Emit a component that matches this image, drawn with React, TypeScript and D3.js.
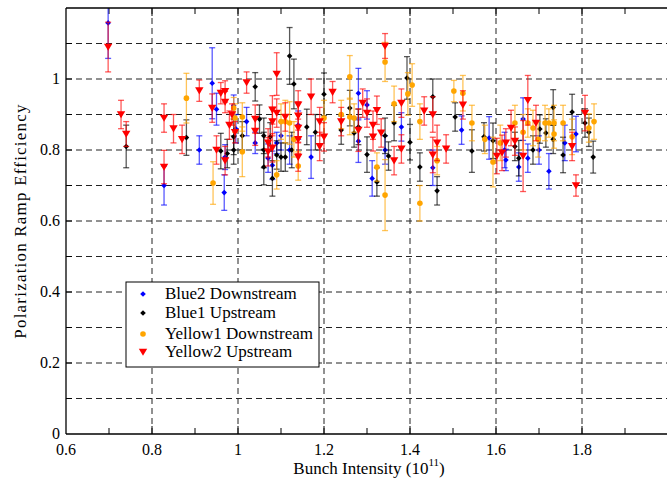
import React from "react";
import * as d3 from "d3";

// [x, y, err]
const blue2Down: number[][] = [
  [0.698,1.158,0.10],[0.828,0.700,0.055],[0.91,0.80,0.04],[0.94,0.988,0.10],[0.95,0.915,0.045],
  [0.968,0.68,0.05],[0.97,0.78,0.035],[0.99,0.925,0.03],[0.995,0.86,0.04],[1.02,0.88,0.04],
  [1.04,0.82,0.03],[1.07,0.777,0.04],[1.08,0.757,0.04],[1.09,0.82,0.03],[1.10,0.84,0.04],
  [1.12,0.80,0.04],[1.14,0.87,0.04],[1.17,0.78,0.06],[1.28,0.96,0.07],[1.28,0.825,0.06],
  [1.30,0.927,0.04],[1.312,0.72,0.05],[1.342,0.80,0.04],[1.38,0.865,0.04],[1.453,0.75,0.05],
  [1.52,0.856,0.04],[1.584,0.834,0.06],[1.62,0.80,0.05],[1.623,0.772,0.03],[1.653,0.752,0.04],
  [1.663,0.887,0.06],[1.674,0.777,0.04],[1.70,0.80,0.04],[1.723,0.74,0.05],[1.76,0.82,0.05],
  [1.786,0.845,0.05],
];
const blue1Up: number[][] = [
  [0.74,0.81,0.06],[0.88,0.835,0.05],[0.96,0.797,0.05],[0.975,0.79,0.04],[0.99,0.80,0.04],
  [0.99,0.837,0.05],[1.01,0.84,0.04],[1.04,0.978,0.04],[1.05,0.887,0.04],[1.06,0.84,0.05],
  [1.06,0.80,0.05],[1.06,0.752,0.05],[1.075,0.837,0.04],[1.08,0.72,0.05],[1.09,0.786,0.04],
  [1.10,0.78,0.04],[1.11,0.78,0.04],[1.12,1.065,0.08],[1.13,0.986,0.07],[1.125,0.80,0.05],
  [1.16,0.865,0.05],[1.18,0.85,0.05],[1.20,0.957,0.06],[1.24,0.856,0.04],[1.26,0.918,0.05],
  [1.27,0.848,0.04],[1.28,0.865,0.05],[1.30,0.787,0.05],[1.323,0.71,0.04],[1.342,0.84,0.05],
  [1.35,0.783,0.04],[1.363,0.876,0.05],[1.393,1.003,0.06],[1.40,0.822,0.05],[1.423,0.752,0.04],
  [1.453,0.95,0.05],[1.463,0.685,0.04],[1.505,0.893,0.04],[1.544,0.797,0.06],[1.572,0.837,0.04],
  [1.593,0.826,0.05],[1.644,0.81,0.04],[1.653,0.777,0.05],[1.686,0.80,0.04],[1.702,0.859,0.04],
  [1.716,0.848,0.04],[1.733,0.92,0.05],[1.733,0.83,0.04],[1.756,0.786,0.05],[1.777,0.907,0.05],
  [1.807,0.876,0.04],[1.816,0.85,0.04],[1.826,0.78,0.045],
];
const yellow1Down: number[][] = [
  [0.88,0.946,0.07],[0.942,0.707,0.06],[0.99,0.918,0.03],[0.993,0.89,0.04],[1.01,0.893,0.04],
  [1.01,0.795,0.07],[1.09,0.73,0.04],[1.10,0.88,0.05],[1.11,0.88,0.06],[1.12,0.876,0.06],
  [1.13,0.83,0.05],[1.14,0.755,0.04],[1.20,0.89,0.05],[1.24,0.90,0.04],[1.26,1.006,0.06],
  [1.26,0.893,0.05],[1.27,0.89,0.04],[1.323,0.752,0.04],[1.342,1.048,0.055],[1.342,0.673,0.10],
  [1.363,0.93,0.05],[1.395,0.958,0.06],[1.405,0.983,0.06],[1.423,0.88,0.05],[1.423,0.65,0.05],
  [1.463,0.77,0.04],[1.502,0.966,0.03],[1.523,0.96,0.05],[1.544,0.876,0.05],[1.574,0.83,0.04],
  [1.593,0.766,0.07],[1.61,0.82,0.05],[1.644,0.876,0.05],[1.663,0.85,0.05],[1.674,0.876,0.04],
  [1.686,0.862,0.05],[1.698,0.83,0.05],[1.714,0.876,0.05],[1.723,0.876,0.04],[1.735,0.876,0.05],
  [1.735,0.845,0.04],[1.756,0.876,0.05],[1.777,0.837,0.05],[1.816,0.862,0.04],[1.828,0.88,0.05],
];
const yellow2Up: number[][] = [
  [0.698,1.09,0.07],[0.728,0.90,0.04],[0.74,0.845,0.035],[0.828,0.89,0.04],[0.828,0.752,0.047],
  [0.85,0.86,0.04],[0.87,0.83,0.04],[0.91,0.967,0.03],[0.94,0.918,0.04],[0.95,0.80,0.04],
  [0.96,0.96,0.03],[0.97,0.965,0.03],[0.97,0.935,0.03],[0.97,0.77,0.04],[0.98,0.87,0.04],
  [0.986,0.90,0.03],[0.993,0.85,0.03],[1.02,0.99,0.03],[1.04,0.887,0.04],[1.04,0.853,0.04],
  [1.07,0.82,0.04],[1.07,0.795,0.04],[1.08,0.913,0.04],[1.08,0.88,0.04],[1.08,0.806,0.04],
  [1.09,1.014,0.06],[1.09,0.904,0.04],[1.11,0.893,0.04],[1.14,0.927,0.04],[1.14,0.896,0.04],
  [1.14,0.862,0.04],[1.14,0.83,0.04],[1.14,0.78,0.04],[1.17,0.95,0.05],[1.19,0.88,0.04],
  [1.19,0.81,0.04],[1.20,0.837,0.04],[1.22,0.963,0.03],[1.24,0.88,0.04],[1.28,0.856,0.06],
  [1.29,0.932,0.04],[1.30,0.904,0.04],[1.314,0.837,0.04],[1.314,0.87,0.04],[1.323,0.912,0.04],
  [1.333,0.848,0.04],[1.342,1.093,0.035],[1.363,0.77,0.04],[1.38,0.932,0.04],[1.38,0.803,0.04],
  [1.433,0.91,0.04],[1.453,0.90,0.05],[1.453,0.786,0.05],[1.463,0.82,0.05],[1.484,0.803,0.04],
  [1.523,0.927,0.04],[1.602,0.783,0.05],[1.614,0.792,0.05],[1.623,0.82,0.04],[1.635,0.862,0.05],
  [1.644,0.825,0.04],[1.663,0.783,0.10],[1.674,0.94,0.07],[1.693,0.876,0.05],[1.777,0.81,0.04],
  [1.786,0.70,0.03],[1.807,0.904,0.05],
];

const seriesNames = ["Blue2 Downstream", "Blue1 Upstream", "Yellow1 Downstream", "Yellow2 Upstream"];
const seriesColors = ["#0000ff", "#000000", "#ffa500", "#ff0000"];
const seriesShapes = ["diamond", "diamond", "circle", "triangle"];
const seriesData = [blue2Down, blue1Up, yellow1Down, yellow2Up];

const xTicks = [0.6, 0.8, 1, 1.2, 1.4, 1.6, 1.8];
const yTicks = [0, 0.2, 0.4, 0.6, 0.8, 1];

const W = 667, H = 482;
const FONT = "'Liberation Serif', 'DejaVu Serif', serif";

function Marker({ shape, x, y, color }: { shape: string; x: number; y: number; color: string }) {
  if (shape === "triangle") {
    const s = 4.2;
    return <path d={`M${x - s},${y - s * 0.8}L${x + s},${y - s * 0.8}L${x},${y + s * 0.9}Z`} fill={color} />;
  }
  if (shape === "circle") {
    return <circle cx={x} cy={y} r={2.8} fill={color} />;
  }
  const s = 2.8;
  return <path d={`M${x},${y - s}L${x + s},${y}L${x},${y + s}L${x - s},${y}Z`} fill={color} />;
}

export default function App() {
  const x = d3.scaleLinear().domain([0.6, 2.0]).range([66, 668]);
  const y = d3.scaleLinear().domain([0, 1.2]).range([434, 8]);
  const left = x(0.6), top = y(1.2), bottom = y(0);
  const gridY = d3.range(1, 12).map((i) => i / 10);
  const gridX = [0.8, 1.0, 1.2, 1.4, 1.6, 1.8];
  const minorX = d3.range(7, 20).map((i) => i / 10);
  const legendRows = [294, 313, 334, 352];

  return (
    <svg width={W} height={H} style={{ position: "absolute", left: 0, top: 0, background: "#fff" }} fontFamily={FONT}>
      <defs>
        <clipPath id="plotClip">
          <rect x={left} y={top} width={W - left} height={bottom - top} />
        </clipPath>
      </defs>
      <rect width={W} height={H} fill="#fff" />
      {/* grid */}
      {gridY.map((v) => (
        <line key={"gy" + v} x1={left} x2={W} y1={y(v)} y2={y(v)} stroke="#222" strokeWidth={1} strokeDasharray="6,4" />
      ))}
      {gridX.map((v) => (
        <line key={"gx" + v} x1={x(v)} x2={x(v)} y1={top} y2={bottom} stroke="#222" strokeWidth={1} strokeDasharray="6,4" />
      ))}
      {/* ticks */}
      {minorX.map((v) => {
        const major = Math.round(v * 10) % 2 === 0;
        const len = major ? 8 : 6;
        return (
          <g key={"t" + v}>
            <line x1={x(v)} x2={x(v)} y1={bottom} y2={bottom - len} stroke="#000" strokeWidth={1} />
            <line x1={x(v)} x2={x(v)} y1={top} y2={top + len} stroke="#000" strokeWidth={1} />
          </g>
        );
      })}
      {gridY.map((v) => (
        <line key={"yt" + v} x1={left} x2={left + 6} y1={y(v)} y2={y(v)} stroke="#000" strokeWidth={1} />
      ))}
      {/* data */}
      <g clipPath="url(#plotClip)">
        {seriesData.map((data, si) => (
          <g key={"s" + si}>
            {data.map((d, i) => {
              const cx = x(d[0]);
              const y1 = y(d[1] - d[2]);
              const y2 = y(d[1] + d[2]);
              return (
                <g key={i} stroke={seriesColors[si]} strokeOpacity={0.65} strokeWidth={1.3}>
                  <line x1={cx} x2={cx} y1={y1} y2={y2} />
                  <line x1={cx - 3} x2={cx + 3} y1={y1} y2={y1} />
                  <line x1={cx - 3} x2={cx + 3} y1={y2} y2={y2} />
                </g>
              );
            })}
            {data.map((d, i) => (
              <Marker key={"m" + i} shape={seriesShapes[si]} x={x(d[0])} y={y(d[1])} color={seriesColors[si]} />
            ))}
          </g>
        ))}
      </g>
      {/* axes */}
      <line x1={left} x2={W} y1={top} y2={top} stroke="#000" strokeWidth={1.3} />
      <line x1={left} x2={W} y1={bottom} y2={bottom} stroke="#000" strokeWidth={1.3} />
      <line x1={left} x2={left} y1={top} y2={bottom} stroke="#000" strokeWidth={1.3} />
      {/* tick labels */}
      {yTicks.map((v) => (
        <text key={"yl" + v} x={60} y={y(v) + 5} textAnchor="end" fontSize={16} fill="#000">
          {d3.format("~g")(v)}
        </text>
      ))}
      {xTicks.map((v) => (
        <text key={"xl" + v} x={x(v)} y={455} textAnchor="middle" fontSize={16} fill="#000">
          {d3.format("~g")(v)}
        </text>
      ))}
      {/* axis titles */}
      <text x={369} y={474} textAnchor="middle" fontSize={17} fill="#000">
        Bunch Intensity (10<tspan dy={-8} fontSize={11}>11</tspan><tspan dy={8}>)</tspan>
      </text>
      <text transform={`translate(26,${221}) rotate(-90)`} textAnchor="middle" fontSize={17} letterSpacing={1.2} fill="#000">
        Polarization Ramp Efficiency
      </text>
      {/* legend */}
      <rect x={126} y={282} width={193} height={85} fill="#fff" stroke="#000" strokeWidth={1} />
      {seriesNames.map((n, i) => (
        <g key={"lg" + i}>
          <Marker shape={seriesShapes[i]} x={143} y={legendRows[i]} color={seriesColors[i]} />
          <text x={165} y={legendRows[i] + 5} fontSize={17} fill="#000">{n}</text>
        </g>
      ))}
    </svg>
  );
}
